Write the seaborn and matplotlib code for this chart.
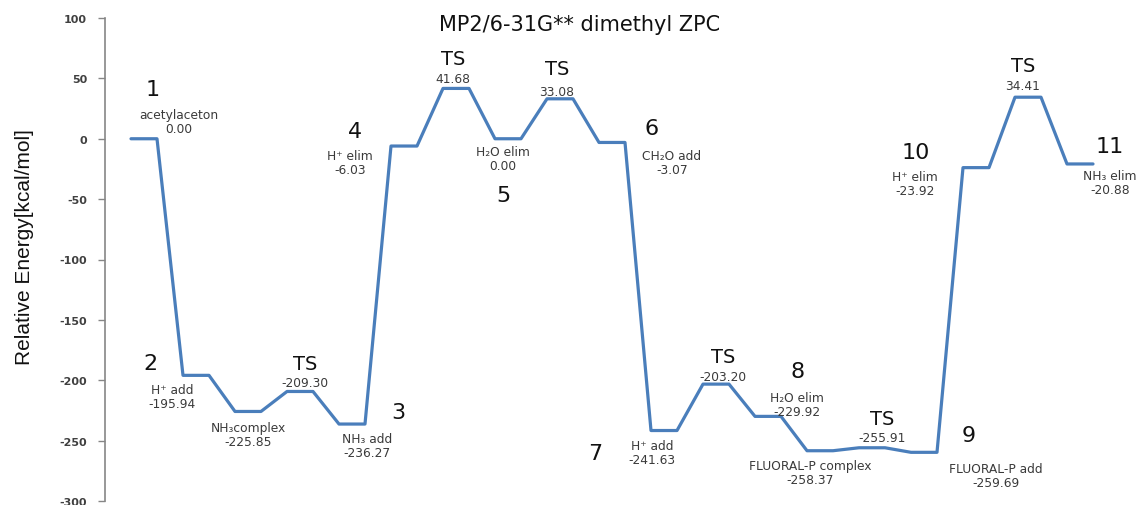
import matplotlib
matplotlib.use("Agg")
import matplotlib.pyplot as plt
from matplotlib import font_manager
import numpy as np
import seaborn as sns

# Energy levels along the reaction path (kcal/mol)
levels = [0.00, -195.94, -225.85, -209.30, -236.27, -6.03, 41.68, 0.00, 33.08,
          -3.07, -241.63, -203.20, -229.92, -258.37, -255.91, -259.69,
          -23.92, 34.41, -20.88]
step_names = ["acetylaceton", "H⁺ add", "NH₃complex", "", "NH₃ add", "H⁺ elim",
              "", "H₂O elim", "", "CH₂O add", "H⁺ add", "", "H₂O elim",
              "FLUORAL-P complex", "", "FLUORAL-P add", "H⁺ elim", "", "NH₃ elim"]
step_tags = ["1", "2", "", "TS", "3", "4", "TS", "5", "TS", "6", "7", "TS", "8",
             "", "TS", "9", "10", "TS", "11"]
y_ticks = [100, 50, 0, -50, -100, -150, -200, -250, -300]

# label placement relative to each plateau centre, in pixels: (dx, dy)
tag_offsets = [(9, 50), (-46, 12), None, (5, 28), (46, 12), (-49, 15), (-3, 30),
               (-5, -56), (-3, 30), (40, 14), (-69, -22), (7, 28), (30, 45), None,
               (10, 29), (45, 17), (-60, 16), (-5, 32), (30, 18)]
text_offsets = [(35, 17), (-24, -21), (0, -23), (5, 9), (15, -21), (-54, -16),
                (-3, 10), (-5, -20), (-3, 7), (60, -20), (-12, -22), (7, 8),
                (29, 12), (-10, -22), (10, 10), (72, -23), (-61, -16), (-5, 12),
                (30, -19)]

sns.set_theme(style="white")
names = {f.name for f in font_manager.fontManager.ttflist}
narrow = "Liberation Sans Narrow" if "Liberation Sans Narrow" in names else "Liberation Sans"
plt.rcParams["font.family"] = ["DejaVu Sans"]

W, H = 1145, 506
fig = plt.figure(figsize=(W / 100, H / 100), dpi=100)
ax = fig.add_axes([105 / W, 4 / H, 1014 / W, 483 / H])

# each level is drawn as a short plateau spanning two consecutive categories
x = np.arange(2 * len(levels))
y = np.repeat(levels, 2)
sns.lineplot(x=x, y=y, ax=ax, color="#4A7EBB", linewidth=2.3, estimator=None)

ax.set_xlim(-1, 38)
ax.set_ylim(-300, 100)
ax.set_yticks(y_ticks)
ax.set_yticklabels([str(t) for t in y_ticks])
ax.tick_params(axis="y", which="major", direction="out", length=5, width=1,
               color="#868686", labelsize=8, labelcolor="#404040", pad=8, left=True)
for lbl in ax.get_yticklabels():
    lbl.set_fontweight("bold")
ax.set_xticks([])
for side in ["top", "right", "bottom"]:
    ax.spines[side].set_visible(False)
ax.spines["left"].set_color("#868686")
ax.spines["left"].set_linewidth(1.2)
ax.set_xlabel("")
ax.set_ylabel("")
ax.set_facecolor("white")

for k, v in enumerate(levels):
    cx = 2 * k + 0.5
    if tag_offsets[k] is not None:
        tag = step_tags[k]
        size = 14 if tag == "TS" else 16
        ax.annotate(tag, xy=(cx, v), xytext=tag_offsets[k], textcoords="offset pixels",
                    ha="center", va="center", fontsize=size, color="#111111",
                    annotation_clip=False)
    txt = f"{v:.2f}" if step_names[k] == "" else f"{step_names[k]}\n{v:.2f}"
    ax.annotate(txt, xy=(cx, v), xytext=text_offsets[k], textcoords="offset pixels",
                ha="center", va="center", fontsize=8.8, color="#3a3a3a",
                linespacing=1.1, annotation_clip=False)

fig.text(580 / W, 1 - 25 / H, "MP2/6-31G** dimethyl ZPC", ha="center", va="center",
         fontsize=15, color="#111111")
fig.text(25 / W, 1 - 247 / H, "Relative Energy[kcal/mol]", rotation=90,
         ha="center", va="center", fontsize=15, color="#111111", family=[narrow, "DejaVu Sans"])

fig.savefig("out.png", dpi=100, facecolor="white")
